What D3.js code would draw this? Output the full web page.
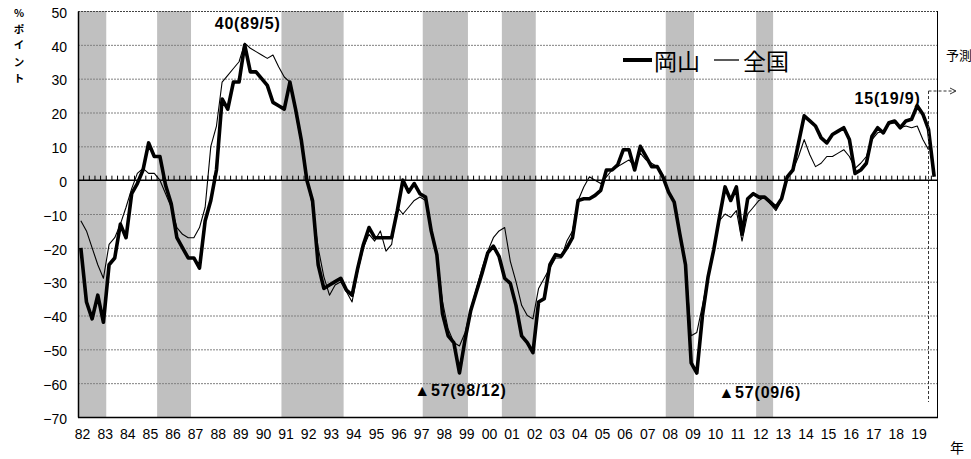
<!DOCTYPE html>
<html><head><meta charset="utf-8">
<script src="https://cdn.jsdelivr.net/npm/d3@7"></script>
<style>body{margin:0;background:#fff}svg{display:block}</style>
</head><body>
<svg id="c" width="971" height="459"></svg>
<script>
// ---- data ----
const startYear = 1982;            // first quarter = 1982Q1
const yearLabels = ["82","83","84","85","86","87","88","89","90","91","92","93","94","95","96","97","98","99","00","01","02","03","04","05","06","07","08","09","10","11","12","13","14","15","16","17","18","19"];
const okayama = [
 -20,-36,-41,-34,-42,-25,-23,-13,-17,-4,-1,3,11,7,7,-1.5,-7,-17,-20,-23,
 -23,-26,-12,-6,3,24,21,29,29,40,32,32,30,28,23,22,21,29,21,12,
 0,-6,-25,-32,-31,-30,-29,-32.5,-34,-26,-19,-14,-17,-17,-17,-17,-9,0,-3.5,-1,
 -4,-5,-15,-22,-39.5,-46,-48,-57,-47,-38.5,-33,-27.5,-21.5,-19.5,-22.5,-29,-30.5,-37,-46,-48,
 -51,-36,-35,-25,-22,-22.5,-20,-17,-6,-5.5,-5.5,-4.5,-3,3,3,4.5,9,9,3,10,
 7,4,4,1,-3.5,-6.5,-16,-25,-54,-57,-40,-28.5,-20.5,-11,-2,-6,-2,-16,-5.5,-4,
 -5,-5,-6.5,-8,-5.5,1,3,11,19,17.5,16,12.5,11,13.5,14.5,15.5,12,2,3,5,
 13,15.5,14,17,17.5,15.5,17.5,18,22,19.5,15,1
];
const zenkoku = [
 -12,-15,-20,-25,-29,-19,-17,-13,-8,-2.5,2,3.5,2,2,0,-4,-8,-14,-16,-17,
 -17,-14,-8,10,16,29,31,33,35,40.5,39,38,37,36,37,33.5,30.5,29,20,11,
 1,-8,-20,-28.5,-34,-31,-30,-33,-36,-27,-20,-16,-18,-15,-21,-19,-8,-10,-8,-6,
 -5,-6,-14,-22,-36,-44,-48,-49,-45,-38,-32,-26,-21,-17,-15,-14,-24,-30,-37,-40,
 -41,-32,-29,-26,-23,-23,-18,-15,-6,-2,1,0,-1,1,3,4,5,6,4,8,
 6,5,4,1.5,-3.5,-6.5,-16,-25,-46,-45,-37,-28.5,-20,-12,-10,-11,-9,-18,-10,-8,
 -6,-5,-7,-9,-6,0.5,3,7,12,7.5,4,5,7,7,8,9,7,3.5,5,7,
 12,14,14.5,16.5,17,15.5,16,15.5,16,12,9
];
const recessions = [[1982.0,1983.25],[1985.5,1987.0],[1991.0,1993.75],[1997.25,1999.25],[2000.75,2002.25],[2008.0,2009.25],[2012.0,2012.75]];
const yTicks = [50,40,30,20,10,0,-10,-20,-30,-40,-50,-60,-70];
const annotations = [
 {text:"40(89/5)", q:29, v:40, anchor:"middle", dx:3, dy:-16},
 {text:"▲57(98/12)", q:67, v:-57, anchor:"middle", dx:1, dy:23},
 {text:"▲57(09/6)", q:109, v:-57, anchor:"middle", dx:63, dy:25},
 {text:"15(19/9)", q:150, v:15, anchor:"end", dx:-8, dy:-25}
];
const forecastQuarter = 150;
const legendItems = ["岡山","全国"];
const yTitle = ["%","ポ","イ","ン","ト"];

// ---- chart ----
const svg = d3.select("#c");
const L=78, R=937, T=11, B=417;
const x = d3.scaleLinear().domain([startYear, startYear+38]).range([L,R]);
const y = d3.scaleLinear().domain([-70,50]).range([B,T]);
const qx = i => x(startYear + (i+0.5)/4);

// recession bands
svg.append("g").selectAll("rect").data(recessions).join("rect")
  .attr("x", d=>x(d[0])).attr("width", d=>x(d[1])-x(d[0]))
  .attr("y", T).attr("height", B-T).attr("fill","#c0c0c0");

// gridlines
svg.append("g").selectAll("line").data(yTicks.filter(v=>v!==0 && v!==-70)).join("line")
  .attr("x1",L).attr("x2",R).attr("y1",d=>y(d)+0.5).attr("y2",d=>y(d)+0.5)
  .attr("stroke", d=>d===50?"#444":"#808080").attr("stroke-width",1)
  .attr("stroke-dasharray","2,1");

// frame
svg.append("line").attr("x1",R+0.5).attr("x2",R+0.5).attr("y1",T).attr("y2",B).attr("stroke","#000");
svg.append("line").attr("x1",L).attr("x2",R+1).attr("y1",B+0.5).attr("y2",B+0.5).attr("stroke","#000").attr("stroke-width",1.5);

// y axis
const yAxis = svg.append("g").attr("transform",`translate(${L},0)`)
  .call(d3.axisLeft(y).tickValues(yTicks).tickSize(0).tickPadding(11)
    .tickFormat(v => v<0 ? "\u2212"+Math.abs(v) : String(v)));
yAxis.select(".domain").attr("stroke","#000").attr("stroke-width",1.5);
yAxis.selectAll("text").attr("font-family","'Liberation Sans',Arial,sans-serif")
  .attr("font-size",14).attr("fill","#000").attr("dy","0.45em");

// x axis labels
const xAxis = svg.append("g").attr("transform",`translate(0,${B})`)
  .call(d3.axisBottom(x).tickValues(yearLabels.map((d,i)=>startYear+i+0.18)).tickSize(0).tickPadding(12)
    .tickFormat((d,i)=>yearLabels[i]));
xAxis.select(".domain").remove();
xAxis.selectAll("text").attr("font-family","'Liberation Sans',Arial,sans-serif").attr("font-size",14).attr("fill","#000");

// zero line with quarter ticks
svg.append("line").attr("x1",L).attr("x2",R).attr("y1",y(0)).attr("y2",y(0)).attr("stroke","#000").attr("stroke-width",1.5);
svg.append("g").selectAll("line").data(d3.range(1, 38*4)).join("line")
  .attr("x1",i=>x(startYear+i/4)).attr("x2",i=>x(startYear+i/4))
  .attr("y1",y(0)).attr("y2",y(0)-4.5).attr("stroke","#000").attr("stroke-width",1);

// lines
const line = d3.line().x((d,i)=>qx(i)).y(d=>y(d));
svg.append("path").datum(zenkoku).attr("d",line).attr("fill","none").attr("stroke","#000").attr("stroke-width",1.1).attr("stroke-linejoin","round");
svg.append("path").datum(okayama).attr("d",line).attr("fill","none").attr("stroke","#000").attr("stroke-width",3.6).attr("stroke-linejoin","round");

// forecast marker
const fx = qx(forecastQuarter);
svg.append("line").attr("x1",fx).attr("x2",fx).attr("y1",91).attr("y2",402)
  .attr("stroke","#333").attr("stroke-width",1).attr("stroke-dasharray","3,2");
svg.append("line").attr("x1",fx).attr("x2",955).attr("y1",91).attr("y2",91)
  .attr("stroke","#333").attr("stroke-width",1).attr("stroke-dasharray","3,2");
svg.append("path").attr("d","M950,88 L956,91 L950,94").attr("fill","none").attr("stroke","#333").attr("stroke-width",1);
svg.append("text").attr("x",946).attr("y",60).text("予測")
  .attr("font-family","'Noto Sans CJK JP',sans-serif").attr("font-size",13).attr("fill","#000");

// annotations
svg.append("g").selectAll("text").data(annotations).join("text")
  .attr("x",d=>qx(d.q)+d.dx).attr("y",d=>y(d.v)+d.dy).attr("text-anchor",d=>d.anchor)
  .attr("font-family","'Liberation Sans',Arial,sans-serif").attr("font-weight","bold")
  .attr("font-size",16).attr("letter-spacing","0.8px").attr("fill","#000").text(d=>d.text);

// legend
const lg = svg.append("g").attr("font-family","'Noto Sans CJK JP',sans-serif").attr("font-size",23).attr("fill","#000");
lg.append("line").attr("x1",623).attr("x2",652).attr("y1",60).attr("y2",60).attr("stroke","#000").attr("stroke-width",4);
lg.append("text").attr("x",654).attr("y",70).text(legendItems[0]);
lg.append("line").attr("x1",714).attr("x2",739).attr("y1",60).attr("y2",60).attr("stroke","#000").attr("stroke-width",1.3);
lg.append("text").attr("x",743).attr("y",70).text(legendItems[1]);

// y title (vertical, stacked characters)
svg.append("g").selectAll("text").data(yTitle).join("text")
  .attr("x",19).attr("y",(d,i)=>17 + i*16.2).attr("text-anchor","middle")
  .attr("font-family","'Noto Sans CJK JP',sans-serif").attr("font-weight","bold").attr("font-size",10.5)
  .attr("fill","#000").text(d=>d);

// x unit
svg.append("text").attr("x",957).attr("y",453).attr("text-anchor","middle").text("年")
  .attr("font-family","'Noto Sans CJK JP',sans-serif").attr("font-size",14).attr("fill","#000");
</script>
</body></html>
